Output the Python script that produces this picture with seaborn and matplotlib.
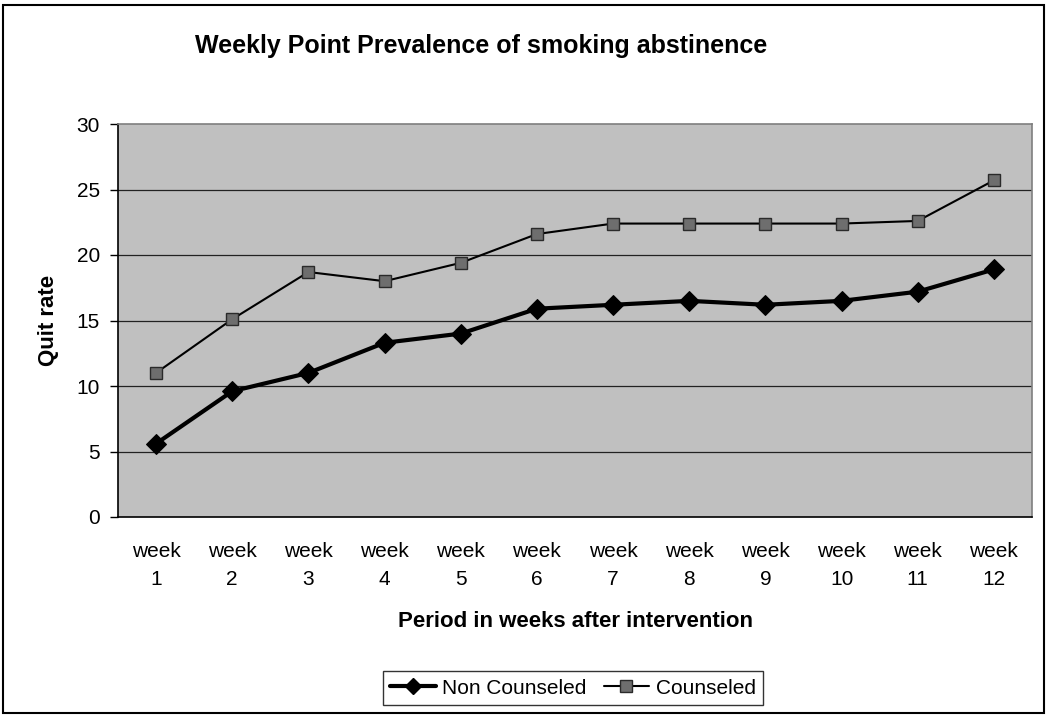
import matplotlib
matplotlib.use("Agg")
import matplotlib.pyplot as plt
from matplotlib.patches import Rectangle
from matplotlib.lines import Line2D
import seaborn as sns
import pandas as pd
import numpy as np

weeks = [f"week\n{i}" for i in range(1, 13)]
non_counseled = [5.6, 9.6, 11.0, 13.3, 14.0, 15.9, 16.2, 16.5, 16.2, 16.5, 17.2, 18.9]
counseled = [11.0, 15.1, 18.7, 18.0, 19.4, 21.6, 22.4, 22.4, 22.4, 22.4, 22.6, 25.7]
y_ticks = [0, 5, 10, 15, 20, 25, 30]

sns.set_style("white")
plt.rcParams["font.family"] = ["Liberation Sans", "DejaVu Sans"]
plt.rcParams.update({"text.color": "black", "axes.labelcolor": "black",
                     "xtick.color": "black", "ytick.color": "black"})

fig = plt.figure(figsize=(10.48, 7.17), dpi=100)
ax = fig.add_axes([118 / 1048, 1 - 517 / 717, (1032 - 118) / 1048, (517 - 124) / 717])
ax.set_facecolor("#c0c0c0")

pos = np.arange(len(weeks))
df_nc = pd.DataFrame({"pos": pos, "rate": non_counseled})
df_c = pd.DataFrame({"pos": pos, "rate": counseled})

sns.lineplot(data=df_nc, x="pos", y="rate", ax=ax, color="black", linewidth=3,
             marker="D", markersize=10, markerfacecolor="black",
             markeredgecolor="black", zorder=4)
sns.lineplot(data=df_c, x="pos", y="rate", ax=ax, color="black", linewidth=1.5,
             marker="s", markersize=9, markerfacecolor="#6e6e6e",
             markeredgecolor="#2a2a2a", markeredgewidth=1, zorder=3)

ax.set_xlim(-0.5, len(weeks) - 0.5)
ax.set_ylim(0, 30)
ax.set_yticks(y_ticks)
ax.set_yticklabels([str(t) for t in y_ticks], fontsize=15)
ax.set_xticks(pos)
ax.set_xticklabels(weeks, fontsize=15, linespacing=1.6)
ax.set_xticks(np.arange(-0.5, len(weeks), 1.0), minor=True)
ax.tick_params(axis="x", which="major", length=0, pad=18)
ax.tick_params(axis="x", which="minor", length=6, width=1, color="#555555", direction="out")
ax.tick_params(axis="y", which="major", length=6, width=1, color="black", direction="out", left=True, pad=7)

for t in y_ticks[1:-1]:
    ax.axhline(t, color="#222222", linewidth=0.9, zorder=1)

for side in ["left", "bottom"]:
    ax.spines[side].set_color("black")
    ax.spines[side].set_linewidth(1.2)
for side in ["top", "right"]:
    ax.spines[side].set_color("#7f7f7f")
    ax.spines[side].set_linewidth(1.2)

ax.set_xlabel("Period in weeks after intervention", fontsize=16, fontweight="bold", labelpad=16)
ax.set_ylabel("Quit rate", fontsize=16, fontweight="bold", labelpad=13)

fig.text(481 / 1048, 1 - 46 / 717, "Weekly Point Prevalence of smoking abstinence",
         fontsize=18, fontweight="bold", ha="center", va="center")

handles = [
    Line2D([], [], color="black", linewidth=3, marker="D", markersize=8,
           markerfacecolor="black", markeredgecolor="black"),
    Line2D([], [], color="black", linewidth=1.5, marker="s", markersize=8,
           markerfacecolor="#6e6e6e", markeredgecolor="#2a2a2a"),
]
leg = fig.legend(handles, ["Non Counseled", "Counseled"], loc="center",
                 bbox_to_anchor=(573 / 1048, 1 - 688 / 717), ncol=2, fontsize=15,
                 frameon=True, fancybox=False, edgecolor="black", handlelength=2.2,
                 columnspacing=0.8, handletextpad=0.3, borderpad=0.35)
leg.get_frame().set_linewidth(1.0)

fig.patches.append(Rectangle((3 / 1048, 4 / 717), 1041 / 1048, 708 / 717,
                             transform=fig.transFigure, fill=False,
                             edgecolor="black", linewidth=1.5))

fig.savefig("out.png", dpi=100)
